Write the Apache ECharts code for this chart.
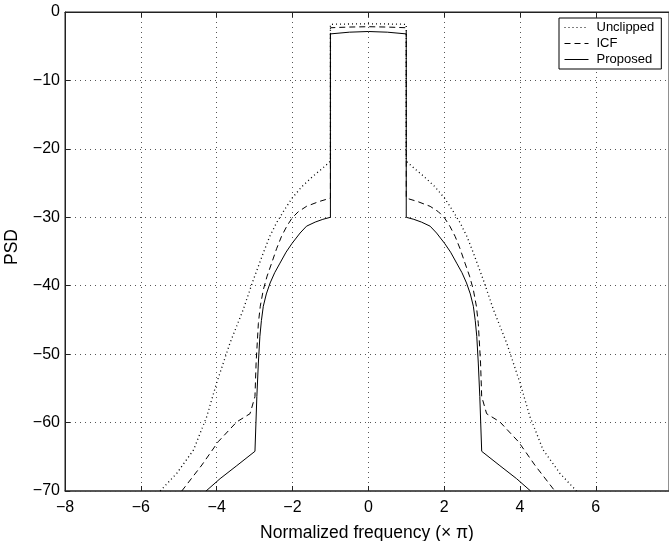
<!DOCTYPE html>
<html>
<head>
<meta charset="utf-8">
<script src="https://cdn.jsdelivr.net/npm/echarts@6/dist/echarts.min.js"></script>
<style>html,body{margin:0;padding:0;background:#fff}#c{width:669px;height:541px}</style>
</head>
<body>
<div id="c"></div>
<script>
var seriesNames = ['Unclipped', 'ICF', 'Proposed'];
var xTicks = [-8, -6, -4, -2, 0, 2, 4, 6];
var yTicks = [-70, -60, -50, -40, -30, -20, -10, 0];

var freqUnclipped = [-5.49, -5.05, -4.61, -4.26, -4.0, -3.65, -3.30, -3.03, -2.77, -2.60, -2.42, -2.20, -2.01, -1.75, -1.46, -1.2, -1.0, -1.0, -0.5, 0, 0.5, 1.0, 1.0, 1.2, 1.46, 1.75, 2.01, 2.20, 2.42, 2.60, 2.77, 3.03, 3.30, 3.65, 4.0, 4.26, 4.61, 5.05, 5.49];
var psdUnclipped  = [-70, -67.4, -64.0, -59.1, -54.2, -48.4, -43.5, -39.1, -35.2, -32.8, -30.8, -28.8, -27.2, -25.5, -24.0, -22.8, -21.8, -1.8, -1.75, -1.72, -1.75, -1.8, -21.8, -22.8, -24.0, -25.5, -27.2, -28.8, -30.8, -32.8, -35.2, -39.1, -43.5, -48.4, -54.2, -59.1, -64.0, -67.4, -70];

var freqICF = [-4.92, -4.39, -3.96, -3.47, -3.12, -2.99, -2.96, -2.90, -2.85, -2.77, -2.67, -2.55, -2.42, -2.29, -2.15, -2.01, -1.85, -1.63, -1.3, -1.0, -1.0, -0.5, 0, 0.5, 1.0, 1.0, 1.3, 1.63, 1.85, 2.01, 2.15, 2.29, 2.42, 2.55, 2.67, 2.77, 2.85, 2.90, 2.96, 2.99, 3.12, 3.47, 3.96, 4.39, 4.92];
var psdICF  = [-70, -66.2, -62.8, -59.9, -58.7, -56.2, -51.3, -45.5, -43.0, -40.6, -38.6, -36.7, -34.6, -32.8, -31.3, -30.1, -29.2, -28.4, -27.7, -27.2, -2.3, -2.2, -2.15, -2.2, -2.3, -27.2, -27.7, -28.4, -29.2, -30.1, -31.3, -32.8, -34.6, -36.7, -38.6, -40.6, -43.0, -45.5, -51.3, -56.2, -58.7, -59.9, -62.8, -66.2, -70];

var freqProposed = [-4.28, -3.91, -3.47, -2.99, -2.94, -2.90, -2.86, -2.82, -2.77, -2.69, -2.59, -2.47, -2.33, -2.17, -2.01, -1.8, -1.63, -1.4, -1.2, -1.0, -1.0, -0.5, 0, 0.5, 1.0, 1.0, 1.2, 1.4, 1.63, 1.8, 2.01, 2.17, 2.33, 2.47, 2.59, 2.69, 2.77, 2.82, 2.86, 2.90, 2.94, 2.99, 3.47, 3.91, 4.28];
var psdProposed  = [-70, -68.2, -66.3, -64.2, -56.2, -51.3, -47.4, -45.1, -43.0, -41.2, -39.6, -38.1, -36.7, -35.1, -33.8, -32.3, -31.3, -30.7, -30.3, -30.0, -3.2, -2.95, -2.85, -2.95, -3.2, -30.0, -30.3, -30.7, -31.3, -32.3, -33.8, -35.1, -36.7, -38.1, -39.6, -41.2, -43.0, -45.1, -47.4, -51.3, -56.2, -64.2, -66.3, -68.2, -70];

function pairs(xs, ys) { return xs.map(function (x, i) { return [x, ys[i]]; }); }
function fmt(v) { return String(v).replace('-', '\u2212'); }

var chart = echarts.init(document.getElementById('c'), null, { renderer: 'canvas' });
var FONT = 'Liberation Sans, Arial, Helvetica, sans-serif';
var styles = [
  { type: [1, 3], width: 1.3 },
  { type: [6, 4], width: 1 },
  { type: 'solid', width: 1 }
];
var datas = [pairs(freqUnclipped, psdUnclipped), pairs(freqICF, psdICF), pairs(freqProposed, psdProposed)];

chart.setOption({
  animation: false,
  backgroundColor: '#fff',
  grid: { left: 65, right: 0, top: 12, bottom: 50, show: true, borderColor: '#222', borderWidth: 1, backgroundColor: 'transparent', outerBoundsMode: 'none', containLabel: false },
  legend: {
    data: seriesNames,
    orient: 'vertical',
    left: 559,
    top: 18,
    icon: 'inherit',
    backgroundColor: '#fff',
    borderColor: '#000',
    borderWidth: 1,
    padding: [3, 7, 3, 5],
    itemGap: 3,
    itemWidth: 24,
    itemHeight: 13,
    itemStyle: { opacity: 0 },
    lineStyle: { width: 1 },
    textStyle: { fontFamily: FONT, fontSize: 13, color: '#000', padding: [0, 0, 0, 3] }
  },
  xAxis: [{
    type: 'value', min: -8, max: 7.93, interval: 2,
    name: 'Normalized frequency (\u00d7 \u03c0)', nameLocation: 'middle', nameGap: 33,
    nameTextStyle: { fontFamily: FONT, fontSize: 17.5, color: '#000' },
    axisLine: { show: true, onZero: false, lineStyle: { color: '#444', width: 1.5 } },
    axisTick: { show: true, inside: true, length: 5, lineStyle: { color: '#222' } },
    axisLabel: { fontFamily: FONT, fontSize: 16, color: '#000', margin: 9, showMaxLabel: false,
      formatter: function (v) { return xTicks.indexOf(Math.round(v)) >= 0 && Math.abs(v - Math.round(v)) < 1e-6 ? fmt(Math.round(v)) : ''; } },
    splitLine: { show: true, lineStyle: { color: '#555', type: [1, 4], width: 1 } }
  }, {
    type: 'value', position: 'top', min: -8, max: 7.93, interval: 2,
    axisLine: { show: true, onZero: false, lineStyle: { color: '#222' } },
    axisTick: { show: true, inside: true, length: 5, lineStyle: { color: '#222' } },
    axisLabel: { show: false }, splitLine: { show: false }
  }],
  yAxis: [{
    type: 'value', min: -70, max: 0, interval: 10,
    name: 'PSD', nameLocation: 'middle', nameGap: 44,
    nameTextStyle: { fontFamily: FONT, fontSize: 17.5, color: '#000', padding: [0, 0, 0, 9] },
    axisLine: { show: true, onZero: false, lineStyle: { color: '#222' } },
    axisTick: { show: true, inside: true, length: 5, lineStyle: { color: '#222' } },
    axisLabel: { fontFamily: FONT, fontSize: 16, color: '#000', margin: 5,
      formatter: function (v) { return yTicks.indexOf(v) >= 0 ? fmt(v) : ''; } },
    splitLine: { show: true, lineStyle: { color: '#555', type: [1, 4], width: 1 } }
  }],
  series: seriesNames.map(function (n, i) {
    return {
      name: n, type: 'line', data: datas[i], showSymbol: false, symbol: 'none',
      smooth: false, clip: true,
      lineStyle: { color: '#000', width: styles[i].width, type: styles[i].type },
      itemStyle: { color: '#000' },
      z: 3 + i
    };
  })
});
</script>
</body>
</html>
